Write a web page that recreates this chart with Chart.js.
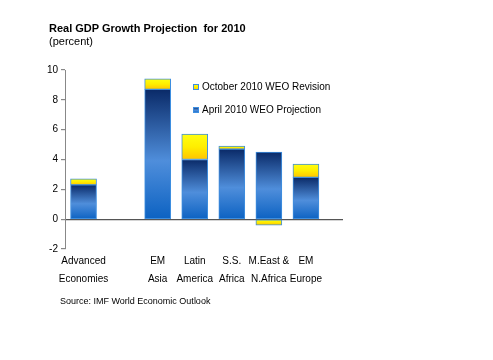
<!DOCTYPE html>
<html>
<head>
<meta charset="utf-8">
<script src="https://cdn.jsdelivr.net/npm/chart.js@4"></script>
<style>
  body { margin: 0; background: #fff; font-family: "Liberation Sans", Arial, sans-serif; }
  #wrap { position: relative; width: 493px; height: 360px; }
  #titulo { position: absolute; left: 49px; top: 22px; font-size: 11px; font-weight: bold; color: #000; white-space: pre; }
  #unidad { position: absolute; left: 49px; top: 35px; font-size: 11px; color: #000; }
  #fuente { position: absolute; left: 60px; top: 296px; font-size: 9px; color: #000; }
  canvas { position: absolute; left: 0; top: 0; }
</style>
</head>
<body>
<div id="wrap">
  <canvas id="grafica" width="493" height="360"></canvas>
  <div id="titulo">Real GDP Growth Projection  for 2010</div>
  <div id="unidad">(percent)</div>
  <div id="fuente">Source: IMF World Economic Outlook</div>
</div>
<script>
//DATOS
const categorias = [["Advanced", "Economies"], "", ["EM", "Asia"], ["Latin", "America"], ["S.S.", "Africa"], ["M.East &", "N.Africa"], ["EM", "Europe"]];
const abril = [2.3, null, 8.7, 4.0, 4.7, 4.5, 2.8];
const revisionOct = [0.4, null, 0.7, 1.7, 0.2, -0.4, 0.9];
const ticksY = [-2, 0, 2, 4, 6, 8, 10];

const etiquetas = ["October 2010 WEO Revision", "April 2010 WEO Projection"];

function puntos(arr){
  return arr.map((v, i) => ({x: i, y: v}));
}

function gradAzul(chart, y0, y1){
  let g = chart.ctx.createLinearGradient(0, y0, 0, y1);
  g.addColorStop(0, "#0a2a68");
  g.addColorStop(0.55, "#4f8edb");
  g.addColorStop(1, "#0c62c2");
  return g;
}

function gradAmarillo(chart, y0, y1){
  let g = chart.ctx.createLinearGradient(0, y0, 0, y1);
  g.addColorStop(0, "#ffff10");
  g.addColorStop(0.5, "#ffee00");
  g.addColorStop(1, "#ffc400");
  return g;
}

function fondoAbril(ctx){
  const chart = ctx.chart;
  if (!chart.chartArea || ctx.type !== "data") return "#2f6fc8";
  const y = chart.scales.y;
  const v = abril[ctx.dataIndex] || 0;
  return gradAzul(chart, y.getPixelForValue(v), y.getPixelForValue(0));
}

function fondoOct(ctx){
  const chart = ctx.chart;
  if (!chart.chartArea || ctx.type !== "data") return "#ffe000";
  const y = chart.scales.y;
  const a = abril[ctx.dataIndex] || 0;
  const r = revisionOct[ctx.dataIndex] || 0;
  if (r >= 0) return gradAmarillo(chart, y.getPixelForValue(a + r), y.getPixelForValue(a));
  return gradAmarillo(chart, y.getPixelForValue(0), y.getPixelForValue(r));
}

//LEYENDA
const leyenda = {
  id: "leyenda",
  afterDraw(chart){
    const c = chart.ctx;
    c.save();
    c.font = "10px 'Liberation Sans', Arial, sans-serif";
    c.textBaseline = "alphabetic";
    c.strokeStyle = "#3d8ee0";
    c.lineWidth = 1;
    // October
    c.fillStyle = gradAmarillo(chart, 84, 90);
    c.fillRect(193, 84, 6, 6);
    c.strokeRect(193.5, 84.5, 5, 5);
    c.fillStyle = "#000";
    c.fillText(etiquetas[0], 202, 90);
    // April
    c.fillStyle = gradAzul(chart, 107, 113);
    c.fillRect(193, 107, 6, 6);
    c.strokeRect(193.5, 107.5, 5, 5);
    c.fillStyle = "#000";
    c.fillText(etiquetas[1], 202, 113);
    c.restore();
  }
};

let micanvas = document.getElementById("grafica").getContext("2d");
var char = new Chart(micanvas, {
  type: "bar",
  data: {
    datasets: [
      {
        label: etiquetas[1],
        data: puntos(abril),
        backgroundColor: fondoAbril,
        borderColor: "#3d8ee0",
        borderWidth: 1,
        borderSkipped: false,
        barThickness: 26
      },
      {
        label: etiquetas[0],
        data: puntos(revisionOct),
        backgroundColor: fondoOct,
        borderColor: "#3d8ee0",
        borderWidth: 1,
        borderSkipped: false,
        barThickness: 26
      }
    ]
  },
  options: {
    responsive: false,
    animation: false,
    layout: { padding: { top: 70, right: 150, bottom: 0, left: 0 } },
    plugins: {
      legend: { display: false },
      tooltip: { enabled: false }
    },
    scales: {
      x: {
        type: "linear",
        stacked: true,
        offset: false,
        min: -0.5,
        max: 7,
        afterBuildTicks: s => { s.ticks = categorias.map((c, i) => ({value: i})); },
        afterFit: s => { s.height = 111; },
        grid: { display: false, drawTicks: false },
        border: { display: false },
        ticks: {
          autoSkip: false,
          maxRotation: 0,
          padding: 3,
          color: "#000",
          font: { family: "'Liberation Sans', Arial, sans-serif", size: 10, lineHeight: 1.8 },
          callback: v => categorias[v]
        }
      },
      y: {
        stacked: true,
        min: -2,
        max: 10,
        afterBuildTicks: s => { s.ticks = ticksY.map(v => ({value: v})); },
        afterFit: s => { s.width = 65; },
        grid: {
          color: c => (c.tick && c.tick.value === 0) ? "#555" : "rgba(0,0,0,0)",
          tickColor: "#888",
          tickLength: 4,
          lineWidth: 1.2
        },
        border: { display: true, color: "#888" },
        ticks: {
          padding: 3,
          color: "#000",
          font: { family: "'Liberation Sans', Arial, sans-serif", size: 10 }
        }
      }
    }
  },
  plugins: [leyenda]
});
</script>
</body>
</html>
